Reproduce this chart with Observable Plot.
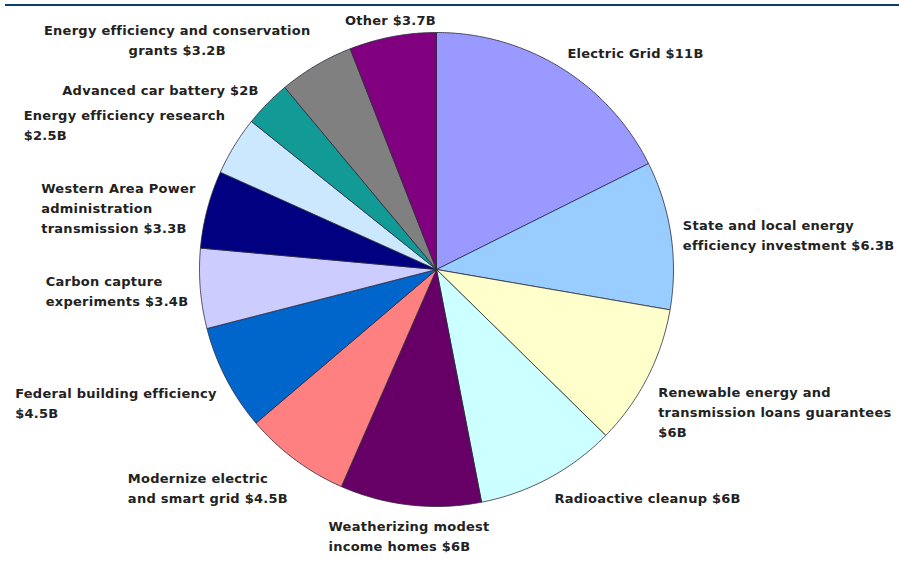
<!DOCTYPE html>
<html><head><meta charset="utf-8">
<script src="https://cdn.jsdelivr.net/npm/d3@7"></script>
<script src="https://cdn.jsdelivr.net/npm/@observablehq/plot@0.6"></script>
<style>
body{margin:0;background:#fff;}
#wrap{position:relative;width:899px;height:575px;overflow:hidden;}
#topline{position:absolute;left:5px;right:0;top:4px;height:2px;background:#0d3d6b;}
svg text{letter-spacing:0.25px;}
</style></head><body><div id="wrap"><div id="chart"></div><div id="topline"></div></div>
<script>
const categories = [
  "Electric Grid", "State and local energy efficiency investment",
  "Renewable energy and transmission loans guarantees", "Radioactive cleanup",
  "Weatherizing modest income homes", "Modernize electric and smart grid",
  "Federal building efficiency", "Carbon capture experiments",
  "Western Area Power administration transmission", "Energy efficiency research",
  "Advanced car battery", "Energy efficiency and conservation grants", "Other"
];
const labelText = [
  "Electric Grid $11B",
  "State and local energy\nefficiency investment $6.3B",
  "Renewable energy and\ntransmission loans guarantees\n$6B",
  "Radioactive cleanup $6B",
  "Weatherizing modest\nincome homes $6B",
  "Modernize electric\nand smart grid $4.5B",
  "Federal building efficiency\n$4.5B",
  "Carbon capture\nexperiments $3.4B",
  "Western Area Power\nadministration\ntransmission $3.3B",
  "Energy efficiency research\n$2.5B",
  "Advanced car battery $2B",
  "Energy efficiency and conservation\ngrants $3.2B",
  "Other $3.7B"
];
const values = [11, 6.3, 6, 6, 6, 4.5, 4.5, 3.4, 3.3, 2.5, 2, 3.2, 3.7];
const colors = [
  "#9999ff", "#99ccff", "#ffffcc", "#ccffff", "#660066", "#ff8080",
  "#0066cc", "#ccccff", "#000080", "#cce8ff", "#129a96", "#808080", "#800080"
];
// text alignment inside each label box
const labelAlign = ["left","left","left","left","left","left","left","left","left","left","left","center","left"];

// layout
const W = 899, H = 575, CX = 436, CY = 269, R = 237;
const FS = 13, LS = 0.25, LH = 20;

const arcs = d3.pie().sort(null).value(d => d)(values);
const polys = [];
arcs.forEach((a, i) => {
  polys.push({k: i, x: 0, y: 0, c: colors[i]});
  const n = Math.max(2, Math.ceil((a.endAngle - a.startAngle) / (Math.PI / 360)));
  for (let j = 0; j <= n; j++) {
    const t = a.startAngle + (a.endAngle - a.startAngle) * j / n;
    polys.push({k: i, x: Math.sin(t), y: -Math.cos(t), c: colors[i]});
  }
  polys.push({k: i, x: 0, y: 0, c: colors[i]});
});

const ctx = document.createElement("canvas").getContext("2d");
ctx.font = `bold ${FS}px "DejaVu Sans"`;
const textWidth = s => Math.max(...s.split("\n").map(l => ctx.measureText(l).width + l.length * LS));

const lr = (R + 12) / R;
const labs = arcs.map((a, i) => {
  const m = (a.startAngle + a.endAngle) / 2;
  const s = Math.sin(m), c = Math.cos(m);
  const ta = s > 0.3 ? "start" : s < -0.3 ? "end" : "middle";
  const la = c > 0.3 ? "bottom" : c < -0.3 ? "top" : "middle";
  const w = textWidth(labelText[i]) / R;
  const px = lr * s;
  const left = ta === "start" ? px : ta === "end" ? px - w : px - w / 2;
  const center = labelAlign[i] === "center";
  return {text: labelText[i], x: center ? left + w / 2 : left, y: -lr * c, la, anchor: center ? "middle" : "start"};
});

const textMarks = [];
for (const anchor of ["start", "middle"]) {
  for (const la of ["top", "middle", "bottom"]) {
    const sub = labs.filter(d => d.anchor === anchor && d.la === la);
    if (!sub.length) continue;
    textMarks.push(Plot.text(sub, {
      x: "x", y: "y", text: "text", textAnchor: anchor, lineAnchor: la,
      fontSize: FS, fontWeight: "bold", fontFamily: "DejaVu Sans, sans-serif",
      fill: "#222", lineHeight: LH / FS
    }));
  }
}

const chart = Plot.plot({
  width: W, height: H,
  margin: 0,
  x: {domain: [-CX / R, (W - CX) / R], range: [0, W], axis: null},
  y: {domain: [-CY / R, (H - CY) / R], range: [0, H], axis: null},
  color: {type: "identity"},
  style: {background: "#fff", overflow: "visible"},
  marks: [
    Plot.line(polys, {x: "x", y: "y", z: "k", fill: "c", stroke: "#2a2a3a", strokeWidth: 0.8, curve: "linear"}),
    ...textMarks
  ]
});
document.getElementById("chart").appendChild(chart);
</script></body></html>
